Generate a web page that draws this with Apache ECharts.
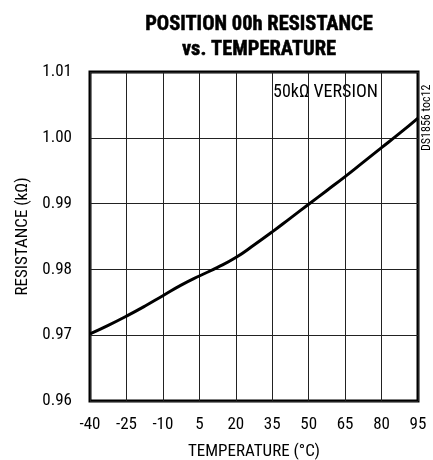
<!DOCTYPE html>
<html><head><meta charset="utf-8">
<script src="https://cdn.jsdelivr.net/npm/echarts@6/dist/echarts.min.js"></script>
<style>html,body{margin:0;padding:0;background:#fff}#c{width:433px;height:460px}</style>
</head><body><div id="c"></div>
<script>
const temps = [-40, -32.5, -25, -17.5, -10, -2.5, 5, 12.5, 20, 27.5, 35, 42.5, 50, 57.5, 65, 72.5, 80, 87.5, 95];
const resistance = [0.9702, 0.9715, 0.9729, 0.9744, 0.9760, 0.9776, 0.9790, 0.9803, 0.9818, 0.9837, 0.9857, 0.9878, 0.9899, 0.9920, 0.9941, 0.9963, 0.9985, 1.0007, 1.0030];
const xTicks = [-40, -25, -10, 5, 20, 35, 50, 65, 80, 95];
const yTicks = [0.96, 0.97, 0.98, 0.99, 1.00, 1.01];
const titleText = 'POSITION 00h RESISTANCE\nvs. TEMPERATURE';
const xName = 'TEMPERATURE (°C)';
const yName = 'RESISTANCE (kΩ)';
const noteText = '50kΩ VERSION';
const sideText = 'DS1856 toc12';

const font = '"Roboto Condensed", "Liberation Sans Narrow", sans-serif';
const chart = echarts.init(document.getElementById('c'));
chart.setOption({
  animation: false,
  title: {
    text: titleText, left: 254, top: 7, textAlign: 'center',
    textStyle: {fontFamily: font, fontWeight: 'bold', fontSize: 20.5, lineHeight: 25, color: '#000',
      textBorderColor: '#000', textBorderWidth: 0.5}
  },
  grid: {left: 90, right: 15, top: 72, bottom: 59, show: true, borderColor: '#000', borderWidth: 3,
    backgroundColor: 'transparent', containLabel: false, outerBoundsMode: 'none'},
  xAxis: {
    type: 'value', min: -40, max: 95, interval: 15,
    name: xName, nameLocation: 'middle', nameGap: 42,
    nameTextStyle: {fontFamily: font, fontSize: 17, color: '#000'},
    axisLine: {show: false}, axisTick: {show: false},
    axisLabel: {fontFamily: font, fontSize: 17, color: '#000', margin: 15},
    splitLine: {show: true, lineStyle: {color: '#222', width: 1}}
  },
  yAxis: {
    type: 'value', min: 0.96, max: 1.01, interval: 0.01,
    name: yName, nameLocation: 'middle', nameGap: 56,
    nameTextStyle: {fontFamily: font, fontSize: 17, color: '#000'},
    axisLine: {show: false}, axisTick: {show: false},
    axisLabel: {fontFamily: font, fontSize: 17, color: '#000', margin: 18, formatter: v => v.toFixed(2)},
    splitLine: {show: true, lineStyle: {color: '#222', width: 1}}
  },
  graphic: [
    {type: 'text', left: 272, top: 83, style: {text: noteText, font: '18px ' + font, fill: '#000', backgroundColor: '#fff', padding: [0, 1]}},
    {type: 'text', x: 421, y: 151, rotation: Math.PI / 2, style: {text: sideText, font: '12px ' + font, fill: '#000', textAlign: 'left', textVerticalAlign: 'top'}}
  ],
  series: [{
    type: 'line', data: temps.map((t, i) => [t, resistance[i]]),
    smooth: true, showSymbol: false, lineStyle: {color: '#000', width: 3}
  }]
});
</script></body></html>
